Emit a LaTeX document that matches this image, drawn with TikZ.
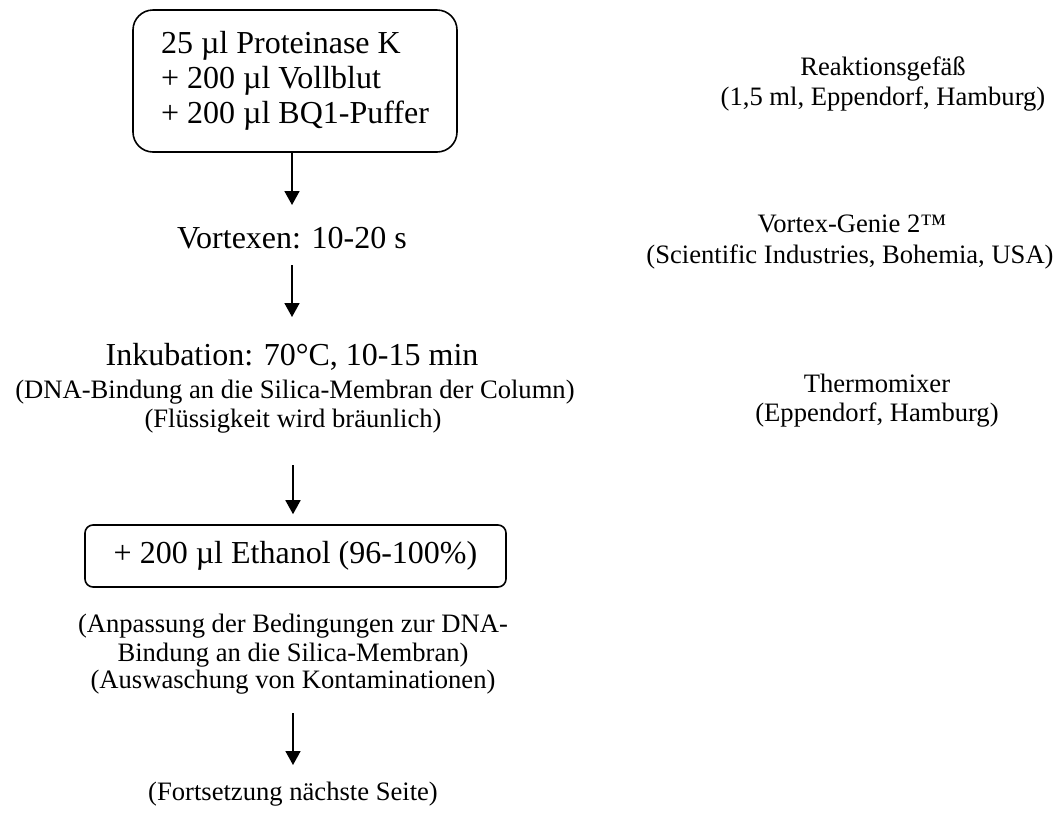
\documentclass[tikz,border=0pt]{standalone}
\usepackage{fontspec}
\setmainfont{Liberation Serif}
\usetikzlibrary{arrows.meta}
\begin{document}
\begin{tikzpicture}[x=1pt,y=-1pt,
  big/.style={font=\fontsize{32}{35}\selectfont, inner sep=0pt},
  small/.style={font=\fontsize{26.6}{29}\selectfont, inner sep=0pt},
  stepbox/.style={draw, line width=1.6pt, align=left, inner sep=0pt,
    font=\fontsize{32}{35}\selectfont},
  flow/.style={line width=1.8pt, -{Triangle[length=14pt,width=15pt]}}]
\useasboundingbox (0,0) rectangle (1061,812);

% main column
\node[stepbox, rounded corners=20pt, minimum width=324pt, minimum height=142pt]
  (mix) at (295,81)
  {25 µl Proteinase K\\+ 200 µl Vollblut\\+ 200 µl BQ1-Puffer};
\node[big, anchor=base] (vortex) at (292,248) {Vortexen: 10-20 s};
\node[big, anchor=base] (incub) at (292,365) {Inkubation: 70°C, 10-15 min};
\node[small, anchor=base] (bind) at (295,398) {(DNA-Bindung an die Silica-Membran der Column)};
\node[small, anchor=base] (brown) at (293,427) {(Flüssigkeit wird bräunlich)};
\node[stepbox, rounded corners=8pt, minimum width=421pt, minimum height=62pt]
  (eth) at (295.5,556)
  {+ 200 µl Ethanol (96-100\%)};
\node[small, anchor=base] (adj1) at (293,632) {(Anpassung der Bedingungen zur DNA-};
\node[small, anchor=base] (adj2) at (293,661) {Bindung an die Silica-Membran)};
\node[small, anchor=base] (adj3) at (293,688) {(Auswaschung von Kontaminationen)};
\node[small, anchor=base] (cont) at (293,800) {(Fortsetzung nächste Seite)};

% equipment column
\node[small, anchor=base] (tube1) at (883,75) {Reaktionsgefäß};
\node[small, anchor=base] (tube2) at (883,105) {(1,5 ml, Eppendorf, Hamburg)};
\node[small, anchor=base] (vort1) at (852,232) {Vortex-Genie 2™};
\node[small, anchor=base] (vort2) at (850,263) {(Scientific Industries, Bohemia, USA)};
\node[small, anchor=base] (therm1) at (877,392) {Thermomixer};
\node[small, anchor=base] (therm2) at (877,421) {(Eppendorf, Hamburg)};

% arrows
\draw[flow] (mix.south -| vortex.base) -- ([yshift=43pt]vortex.base);
\draw[flow] ([yshift=-17pt]vortex.base) -- ([yshift=48pt]incub.base);
\draw[flow, shorten >=10pt] ([yshift=-38pt]brown.base) -- (eth.north -| brown.base);
\draw[flow] ([yshift=-25pt]adj3.base) -- ([yshift=35pt]cont.base);
\end{tikzpicture}
\end{document}
